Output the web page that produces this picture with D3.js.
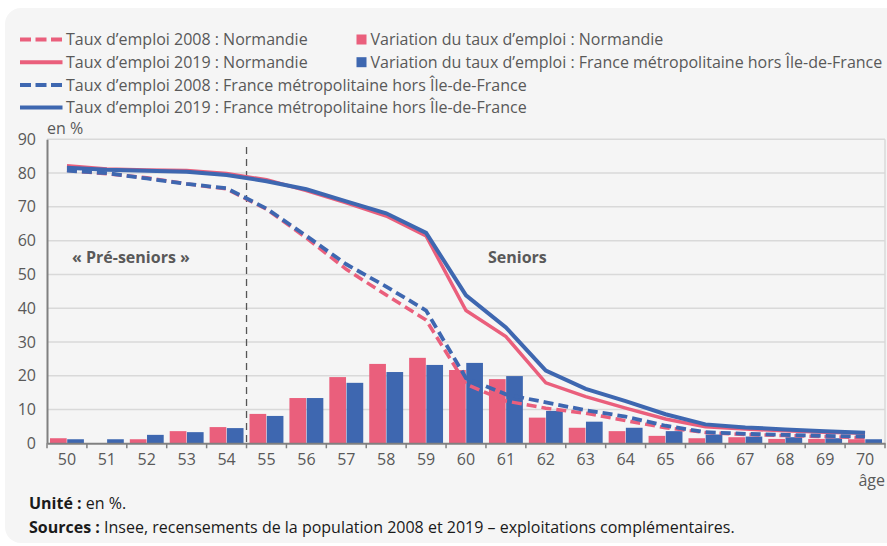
<!DOCTYPE html>
<html>
<head>
<meta charset="utf-8">
<script src="https://cdn.jsdelivr.net/npm/d3@7"></script>
<style>
  body { margin: 0; background: #fff; font-family: "Open Sans", sans-serif; }
  svg text { font-family: "Open Sans", sans-serif; }
</style>
</head>
<body>
<svg id="chart" width="887" height="546"></svg>
<script>
// data
let ages = ['50','51','52','53','54','55','56','57','58','59','60','61','62','63','64','65','66','67','68','69','70']
let varNormandie = [1.5, null, 1.2, 3.6, 4.8, 8.7, 13.4, 19.6, 23.5, 25.3, 21.7, 19.0, 7.6, 4.6, 3.6, 2.2, 1.5, 1.8, 1.3, 1.3, 1.2]
let varFrance = [1.2, 1.2, 2.5, 3.3, 4.5, 8.1, 13.4, 17.9, 21.1, 23.2, 23.8, 19.9, 9.6, 6.4, 4.6, 3.6, 2.6, 2.0, 1.8, 1.5, 1.2]
let taux2019Normandie = [82.2, 81.2, 80.9, 80.8, 79.9, 78.0, 74.8, 71.2, 67.3, 61.4, 39.3, 31.6, 17.9, 13.8, 10.4, 7.2, 4.9, 4.2, 3.7, 3.3, 3.0]
let taux2019France = [81.6, 81.0, 80.7, 80.4, 79.4, 77.6, 75.2, 71.6, 68.1, 62.3, 43.8, 34.3, 21.5, 16.1, 12.5, 8.6, 5.6, 4.7, 4.1, 3.6, 3.1]
let taux2008Normandie = [80.8, 79.8, 78.6, 76.8, 75.3, 69.3, 60.8, 51.5, 43.9, 36.5, 17.5, 12.5, 10.4, 8.9, 6.7, 4.6, 3.2, 2.6, 2.3, 2.0, 1.6]
let taux2008France = [80.7, 80.0, 78.4, 76.8, 75.5, 69.5, 61.4, 53.0, 46.4, 39.3, 19.3, 14.5, 12.1, 9.8, 7.9, 5.2, 3.3, 2.8, 2.5, 2.2, 2.0]
let yTicks = [0, 10, 20, 30, 40, 50, 60, 70, 80, 90]

let pink = '#ea5f7c'
let blue = '#3e67b0'
let textGrey = '#595959'
let fs = 16

let m = {top: 139.3, left: 47, right: 2, bottom: 102.7}
let W = 887, H = 546

let svg = d3.select('#chart')

// card background
svg.append('rect')
    .attr('x', 5).attr('y', 8)
    .attr('width', 897).attr('height', 535)
    .attr('rx', 16)
    .attr('fill', '#f5f5f5')

let xScale = d3.scaleBand().domain(ages).range([m.left, W - m.right]).padding(0)
let bw = xScale.bandwidth()
let subScale = d3.scaleBand().domain(['n', 'f']).range([3, bw - 3]).paddingInner(0.03)
let yScale = d3.scaleLinear().domain([0, 90]).range([H - m.bottom, m.top])

// gridlines
svg.append('g')
    .selectAll('line')
    .data(yTicks.filter(d => d > 0))
    .enter().append('line')
    .attr('x1', m.left).attr('x2', W - m.right)
    .attr('y1', d => yScale(d)).attr('y2', d => yScale(d))
    .attr('stroke', '#d9d9d9')
    .attr('stroke-width', 1.5)

// right border of plot
svg.append('line')
    .attr('x1', W - m.right).attr('x2', W - m.right)
    .attr('y1', yScale(90)).attr('y2', yScale(0))
    .attr('stroke', '#d9d9d9')
    .attr('stroke-width', 1.5)

// bars
let barData = []
ages.forEach(function(a, i) {
    if (varNormandie[i] != null) barData.push({age: a, s: 'n', v: varNormandie[i]})
    if (varFrance[i] != null) barData.push({age: a, s: 'f', v: varFrance[i]})
})
svg.append('g')
    .selectAll('rect')
    .data(barData)
    .enter().append('rect')
    .attr('x', d => xScale(d.age) + subScale(d.s))
    .attr('width', subScale.bandwidth())
    .attr('y', d => yScale(d.v))
    .attr('height', d => yScale(0) - yScale(d.v))
    .attr('fill', d => d.s == 'n' ? pink : blue)

// pre-seniors / seniors separator
svg.append('line')
    .attr('x1', xScale('55')).attr('x2', xScale('55'))
    .attr('y1', 147).attr('y2', yScale(0))
    .attr('stroke', '#555')
    .attr('stroke-width', 1.3)
    .attr('stroke-dasharray', '7,5')

// lines
let line = d3.line()
    .x((d, i) => xScale(ages[i]) + bw / 2)
    .y(d => yScale(d))

let series = [
    {vals: taux2008Normandie, color: pink, dash: '10,5', w: 3.5},
    {vals: taux2019Normandie, color: pink, dash: null, w: 3.5},
    {vals: taux2008France, color: blue, dash: '10,5', w: 3.8},
    {vals: taux2019France, color: blue, dash: null, w: 4}
]
series.forEach(function(s) {
    svg.append('path')
        .datum(s.vals)
        .attr('d', line)
        .attr('fill', 'none')
        .attr('stroke', s.color)
        .attr('stroke-width', s.w)
        .attr('stroke-dasharray', s.dash)
        .attr('stroke-linejoin', 'miter')
})

// y axis
let yAxis = d3.axisLeft(yScale).tickValues(yTicks).tickSize(0).tickPadding(11)
let gy = svg.append('g')
    .attr('transform', `translate(${m.left}, 0)`)
    .call(yAxis)
gy.select('.domain').attr('stroke', '#808080').attr('stroke-width', 2)
gy.selectAll('text').attr('font-size', fs).attr('fill', textGrey)

// x axis
let xAxis = d3.axisBottom(xScale).tickSize(0).tickPadding(10)
let gx = svg.append('g')
    .attr('transform', `translate(0, ${yScale(0)})`)
    .call(xAxis)
gx.select('.domain').attr('stroke', '#808080').attr('stroke-width', 2)
gx.selectAll('text').attr('font-size', fs).attr('fill', textGrey)

// ticks at band boundaries
svg.append('g')
    .selectAll('line')
    .data(ages.concat(['end']))
    .enter().append('line')
    .attr('x1', d => d == 'end' ? W - m.right : xScale(d))
    .attr('x2', d => d == 'end' ? W - m.right : xScale(d))
    .attr('y1', yScale(0)).attr('y2', yScale(0) + 5)
    .attr('stroke', '#808080')
    .attr('stroke-width', 1.5)

svg.append('text')
    .text('âge')
    .attr('x', 885).attr('y', 486)
    .attr('text-anchor', 'end')
    .attr('font-size', fs)
    .attr('fill', textGrey)

svg.append('text')
    .text('en %')
    .attr('x', 47).attr('y', 134)
    .attr('font-size', fs)
    .attr('fill', textGrey)

// zone labels
svg.append('text')
    .text('« Pré-seniors »')
    .attr('x', 72).attr('y', 262.5)
    .attr('font-size', fs).attr('font-weight', 'bold')
    .attr('fill', textGrey)
svg.append('text')
    .text('Seniors')
    .attr('x', 488).attr('y', 262.5)
    .attr('font-size', fs).attr('font-weight', 'bold')
    .attr('fill', textGrey)

// legend
let legendLines = [
    {label: 'Taux d’emploi 2008 : Normandie', color: pink, dash: '10,5'},
    {label: 'Taux d’emploi 2019 : Normandie', color: pink, dash: null},
    {label: 'Taux d’emploi 2008 : France métropolitaine hors Île-de-France', color: blue, dash: '10,5'},
    {label: 'Taux d’emploi 2019 : France métropolitaine hors Île-de-France', color: blue, dash: null}
]
let legendBars = [
    {label: 'Variation du taux d’emploi : Normandie', color: pink},
    {label: 'Variation du taux d’emploi : France métropolitaine hors Île-de-France', color: blue}
]
let legRowY = [39.5, 62.2, 84.9, 107.6]

legendLines.forEach(function(d, i) {
    svg.append('line')
        .attr('x1', 20).attr('x2', 62.5)
        .attr('y1', legRowY[i]).attr('y2', legRowY[i])
        .attr('stroke', d.color)
        .attr('stroke-width', 4)
        .attr('stroke-dasharray', d.dash ? '11,4.5' : null)
    svg.append('text')
        .text(d.label)
        .attr('x', 66).attr('y', legRowY[i] + 5.8)
        .attr('font-size', fs)
        .attr('fill', textGrey)
})
legendBars.forEach(function(d, i) {
    svg.append('rect')
        .attr('x', 356.5).attr('y', legRowY[i] - 5)
        .attr('width', 10).attr('height', 10)
        .attr('fill', d.color)
    svg.append('text')
        .text(d.label)
        .attr('x', 370.5).attr('y', legRowY[i] + 5.8)
        .attr('font-size', fs)
        .attr('fill', textGrey)
})

// footer
let f1 = svg.append('text').attr('x', 29).attr('y', 508.5).attr('font-size', fs).attr('fill', '#1a1a1a')
f1.append('tspan').attr('font-weight', 'bold').text('Unité : ')
f1.append('tspan').text('en %.')
let f2 = svg.append('text').attr('x', 29).attr('y', 532.5).attr('font-size', fs).attr('fill', '#1a1a1a')
f2.append('tspan').attr('font-weight', 'bold').text('Sources : ')
f2.append('tspan').text('Insee, recensements de la population 2008 et 2019 – exploitations complémentaires.')
</script>
</body>
</html>
